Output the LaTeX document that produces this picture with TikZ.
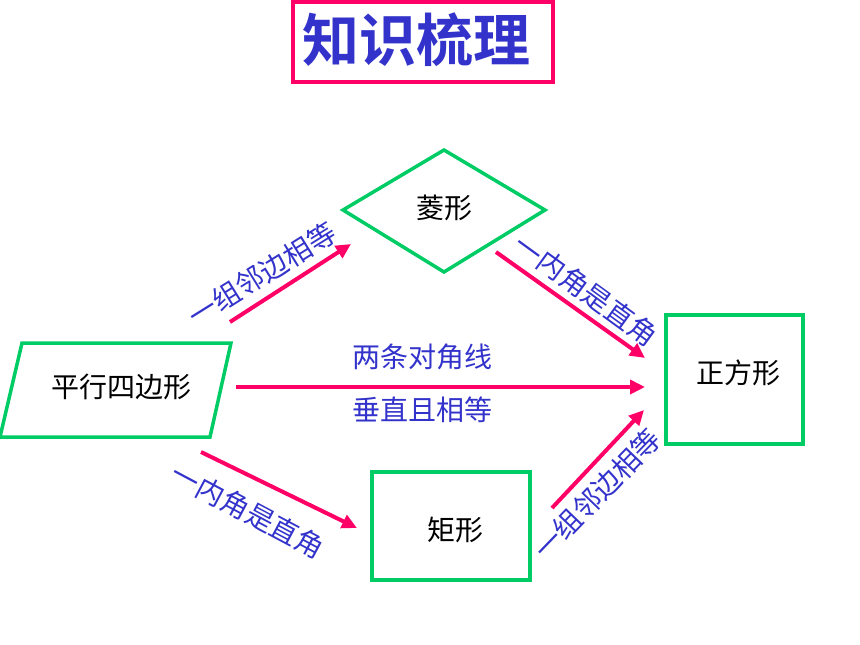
\documentclass[tikz,border=0pt]{standalone}
\usepackage{fontspec}
\newfontfamily\cjk{Noto Sans CJK SC}
\newfontfamily\cjkbold{Noto Sans CJK SC Bold}
\usetikzlibrary{arrows.meta}
\definecolor{pinkc}{HTML}{FF0066}
\definecolor{greenc}{HTML}{00CC66}
\definecolor{bluec}{HTML}{3333CC}
\tikzset{
  shapeline/.style={draw=greenc, line width=3.5pt, line join=miter},
  arr/.style={draw=pinkc, line width=4pt, -{Triangle[length=15pt,width=14pt]}},
  lbl/.style={text=bluec, font=\cjk\fontsize{28}{28}\selectfont, inner sep=0pt},
  shapetext/.style={text=black, font=\cjk\fontsize{28}{28}\selectfont, inner sep=0pt},
}
\begin{document}
\begin{tikzpicture}[x=1pt, y=-1pt]
\useasboundingbox (0,0) rectangle (860,645);
% title
\draw[pinkc, line width=3.5pt] (293,2) rectangle (553,82);
\node[text=bluec, font=\cjkbold\fontsize{57}{57}\selectfont, inner sep=0pt] (title) at (416,40) {知识梳理};
% shapes
\draw[shapeline] (343,210) -- (444,150) -- (545,210) -- (444,272) -- cycle;
\node[shapetext] (ling) at (444,208) {菱形};
\draw[shapeline] (22,343) -- (231,343) -- (210,437) -- (0,437) -- cycle;
\node[shapetext] (pxsbx) at (121,387) {平行四边形};
\draw[shapeline] (666,315) rectangle (803,444);
\node[shapetext] (zfx) at (738,373) {正方形};
\draw[shapeline] (372,472) rectangle (530,580);
\node[shapetext] (jx) at (455,530) {矩形};
% arrow end points
\coordinate (a1s) at (230,322); \coordinate (a1e) at (351,244);
\coordinate (a2s) at (496,252); \coordinate (a2e) at (645,358);
\coordinate (a3s) at (236,387); \coordinate (a3e) at (645,387);
\coordinate (a4s) at (201,452); \coordinate (a4e) at (357,528);
\coordinate (a5s) at (552,508); \coordinate (a5e) at (644,410);
\draw[arr] (a1s) -- (a1e);
\draw[arr] (a2s) -- (a2e);
\draw[arr] (a3s) -- (a3e);
\draw[arr] (a4s) -- (a4e);
\draw[arr] (a5s) -- (a5e);
% labels
\node[lbl, rotate=32] (l1) at (262,274) {一组邻边相等};
\node[lbl, rotate=-36] (l2) at (586,290) {一内角是直角};
\node[lbl] (l3) at (422,357) {两条对角线};
\node[lbl] (l4) at (422,410) {垂直且相等};
\node[lbl, rotate=-28] (l5) at (248,511) {一内角是直角};
\node[lbl, rotate=46] (l6) at (597,494) {一组邻边相等};
\end{tikzpicture}
\end{document}
